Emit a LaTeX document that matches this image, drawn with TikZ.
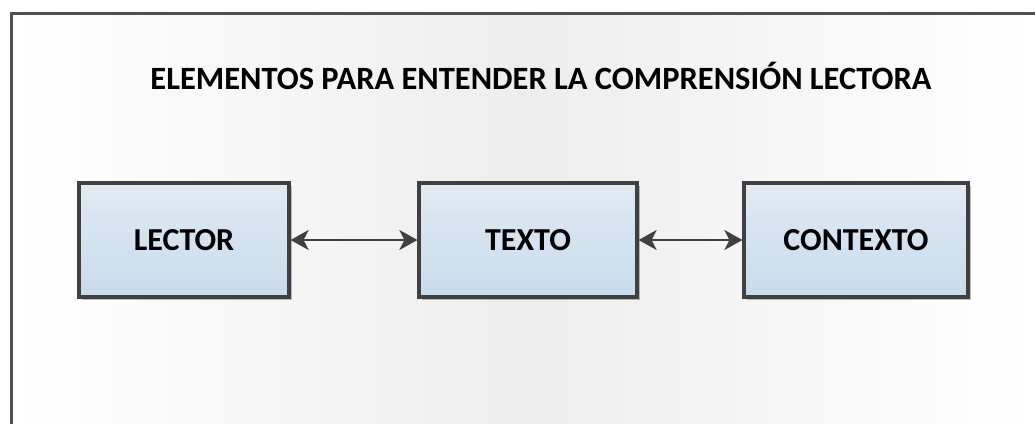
\documentclass[tikz,border=0pt]{standalone}
\usepackage{fontspec}
\setmainfont{Carlito}
\usetikzlibrary{arrows.meta,shadows,fadings}
\definecolor{frameC}{HTML}{505050}
\definecolor{boxTop}{HTML}{E0EAF4}
\definecolor{boxBot}{HTML}{C8DBEB}
\definecolor{edgeC}{HTML}{404040}
\tikzset{
  blk/.style={draw=edgeC, line width=3.2pt, top color=boxTop, bottom color=boxBot,
    minimum height=114pt, inner sep=0pt,
    font=\bfseries\fontsize{32}{36}\selectfont,
    drop shadow={shadow xshift=2.5pt, shadow yshift=-2.5pt, opacity=0.25, fill=black}},
  conn/.style={draw=edgeC, line width=2pt, {Stealth[length=18pt,width=20pt,inset=5pt]}-{Stealth[length=18pt,width=20pt,inset=5pt]}},
  ttl/.style={font=\bfseries\fontsize{32.5}{36}\selectfont, inner sep=0pt}
}
\begin{document}
\begin{tikzpicture}[x=1pt,y=-1pt]
\useasboundingbox (0,0) rectangle (1035,423);
\fill[white] (0,0) rectangle (1035,423);
\shade[left color=white, right color=white, middle color=black!7] (11,13) rectangle (1040,430);
\draw[frameC, line width=3pt] (11,430) -- (11,13) -- (1040,13);
\node[ttl] (title) at (541,76) {ELEMENTOS PARA ENTENDER LA COMPRENSIÓN LECTORA};
\node[blk, minimum width=210pt] (lector) at (184,240) {LECTOR};
\node[blk, minimum width=218pt] (texto) at (528,240) {TEXTO};
\node[blk, minimum width=224pt] (contexto) at (856,240) {CONTEXTO};
\draw[conn] (lector) -- (texto);
\draw[conn] (texto) -- (contexto);
\end{tikzpicture}
\end{document}
